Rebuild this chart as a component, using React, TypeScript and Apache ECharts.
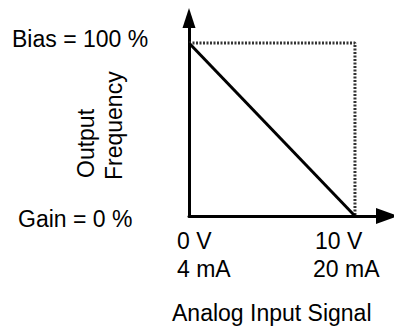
import React, { useEffect, useRef } from "react";
import * as echarts from "echarts";

// Data
const signalRange = [0, 10]; // x: analog input (0..10 V)
const outputLine = [100, 0]; // output frequency % at start / end of range
const biasLevel = 100;
const xTickLabels = [["0 V", "4 mA"], ["10 V", "20 mA"]];
const yLevelLabels = ["Bias = 100 %", "Gain = 0 %"];
const yAxisTitle = ["Output", "Frequency"];
const xAxisTitle = "Analog Input Signal";

const FONT = "'Liberation Sans', Arial, Helvetica, sans-serif";

export default function App() {
  const ref = useRef<HTMLDivElement>(null);
  useEffect(() => {
    if (!ref.current) return;
    const chart = echarts.init(ref.current, undefined, { renderer: "svg" });
    const txt = (text: string, x: number, y: number, extra: any = {}) => ({
      type: "text",
      x,
      y,
      rotation: extra.rotation || 0,
      style: {
        text,
        fill: "#000",
        font: `23px ${FONT}`,
        textAlign: "left",
        textVerticalAlign: "middle",
      },
    });
    chart.setOption({
      animation: false,
      backgroundColor: "#fff",
      grid: { left: 189, right: 7, top: 18, bottom: 111 },
      xAxis: {
        type: "value",
        min: 0,
        max: 11.93,
        axisLine: {
          show: true,
          symbol: ["none", "triangle"],
          symbolSize: [16, 22],
          lineStyle: { color: "#000", width: 3 },
        },
        axisTick: { show: false },
        axisLabel: { show: false },
        splitLine: { show: false },
      },
      yAxis: {
        type: "value",
        min: 0,
        max: 114.5,
        axisLine: {
          show: true,
          symbol: ["none", "triangle"],
          symbolSize: [13, 20],
          lineStyle: { color: "#000", width: 3 },
        },
        axisTick: { show: false },
        axisLabel: { show: false },
        splitLine: { show: false },
      },
      series: [
        {
          type: "line",
          data: [
            [signalRange[0], biasLevel],
            [signalRange[1], biasLevel],
            [signalRange[1], 0],
          ],
          symbol: "none",
          lineStyle: { color: "#333", width: 3, type: [2, 1.5] },
          z: 1,
        },
        {
          type: "line",
          data: [
            [signalRange[0], outputLine[0]],
            [signalRange[1], outputLine[1]],
          ],
          symbol: "none",
          lineStyle: { color: "#000", width: 3 },
          z: 3,
        },
      ],
      graphic: [
        txt(yLevelLabels[0], 12, 39),
        txt(yLevelLabels[1], 18, 219),
        txt(xTickLabels[0][0], 177, 241),
        txt(xTickLabels[0][1], 177, 269),
        txt(xTickLabels[1][0], 315, 241),
        txt(xTickLabels[1][1], 313, 269),
        txt(xAxisTitle, 172, 313),
        txt(yAxisTitle[0], 86, 178, { rotation: Math.PI / 2 }),
        txt(yAxisTitle[1], 114, 180, { rotation: Math.PI / 2 }),
      ],
    });
    return () => chart.dispose();
  }, []);
  return (
    <div
      ref={ref}
      style={{ position: "fixed", left: 0, top: 0, width: 394, height: 327 }}
    />
  );
}
